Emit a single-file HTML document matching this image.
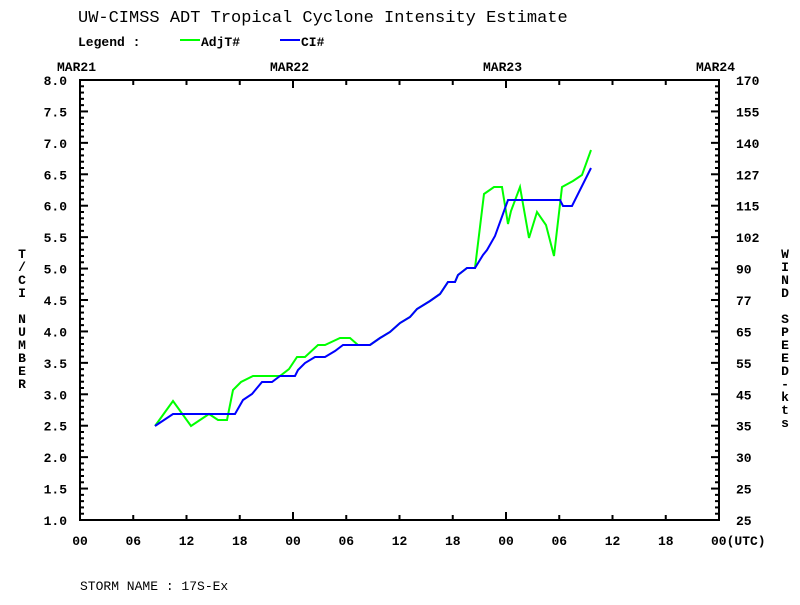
<!DOCTYPE html>
<html><head><style>
body{margin:0;background:#fff;}
svg text{font-family:"Liberation Mono",monospace;fill:#000;}
</style></head><body>
<svg width="800" height="600" xmlns="http://www.w3.org/2000/svg">
<text x="78" y="22" font-size="17">UW-CIMSS ADT Tropical Cyclone Intensity Estimate</text>
<text x="78" y="46" font-size="13" font-weight="bold">Legend :</text>
<line x1="180" y1="40" x2="200" y2="40" stroke="#00ff00" stroke-width="2"/>
<text x="201" y="46" font-size="13" font-weight="bold">AdjT#</text>
<line x1="280" y1="40" x2="300" y2="40" stroke="#0000ff" stroke-width="2"/>
<text x="301" y="46" font-size="13" font-weight="bold">CI#</text>
<g font-size="13" font-weight="bold">
<text x="57" y="71">MAR21</text><text x="270" y="71">MAR22</text><text x="483" y="71">MAR23</text><text x="696" y="71">MAR24</text>
</g>
<rect x="80" y="80" width="639" height="440" fill="none" stroke="#000" stroke-width="2"/>
<g id="ticks" stroke="#000" stroke-width="2"></g>
<g id="labels" font-size="13" font-weight="bold"></g>
<text x="80" y="590" font-size="13">STORM NAME : 17S-Ex</text>
<g font-size="13" font-weight="bold" text-anchor="middle">
<text x="22" y="258">T</text><text x="22" y="271">/</text><text x="22" y="284">C</text><text x="22" y="297">I</text>
<text x="22" y="323">N</text><text x="22" y="336">U</text><text x="22" y="349">M</text><text x="22" y="362">B</text><text x="22" y="375">E</text><text x="22" y="388">R</text>
<text x="785" y="258">W</text><text x="785" y="271">I</text><text x="785" y="284">N</text><text x="785" y="297">D</text>
<text x="785" y="323">S</text><text x="785" y="336">P</text><text x="785" y="349">E</text><text x="785" y="362">E</text><text x="785" y="375">D</text><text x="785" y="388">-</text><text x="785" y="401">k</text><text x="785" y="414">t</text><text x="785" y="427">s</text>
</g>
<polyline fill="none" stroke="#00ff00" stroke-width="2" points="155,426 173,401 191,426 209,414 218,420 227,420 233,390 241,382 253,376 280,376 289,369 297,357 305,357 318,345 325,345 340,338 350,338 358,345 370,345 380,338 390,332 400,323 410,317 417,309 430,301 440,294 448,282 455,282 458,275 467,268 475,268 484,194 494,187 502,187 508,224 511,211 520,187 529,238 537,212 546,225 554,256 562,187 573,181 582,175 591,150"/>
<polyline fill="none" stroke="#0000ff" stroke-width="2" points="155,426 173,414 235,414 243,400 252,394 262,382 272,382 280,376 295,376 298,370 305,363 315,357 325,357 335,351 343,345 370,345 380,338 390,332 400,323 410,317 417,309 430,301 440,294 448,282 455,282 458,275 467,268 475,268 483,255 487,250 495,236 508,200 560,200 563,206 572,206 591,168"/>
<script>
var t=document.getElementById('ticks'),l=document.getElementById('labels'),ns='http://www.w3.org/2000/svg';
function ln(a,b,c,d){var e=document.createElementNS(ns,'line');e.setAttribute('x1',a);e.setAttribute('y1',b);e.setAttribute('x2',c);e.setAttribute('y2',d);t.appendChild(e);}
function tx(x,y,s,anc){var e=document.createElementNS(ns,'text');e.setAttribute('x',x);e.setAttribute('y',y);if(anc)e.setAttribute('text-anchor',anc);e.textContent=s;l.appendChild(e);}
var w=['25','25','30','35','45','55','65','77','90','102','115','127','140','155','170'];
for(var i=0;i<=70;i++){var y=520-i*440/70;var L=(i%5==0)?8:4;ln(80,y,80+L,y);ln(719,y,719-L,y);
if(i%5==0){var v=(1+i/10).toFixed(1);tx(67,y+5,v,'end');tx(736,y+5,w[i/5]);}}
var hl=['00','06','12','18'];
for(var j=0;j<=12;j++){var x=80+j*639/12;var L=(j%4==0)?8:5;ln(x,520,x,520-L);ln(x,80,x,80+L);
tx(x,545,j==12?'00(UTC)':hl[j%4],j==12?'start':'middle');}
l.lastChild.setAttribute('x',711);
</script>
</svg>
</body></html>
